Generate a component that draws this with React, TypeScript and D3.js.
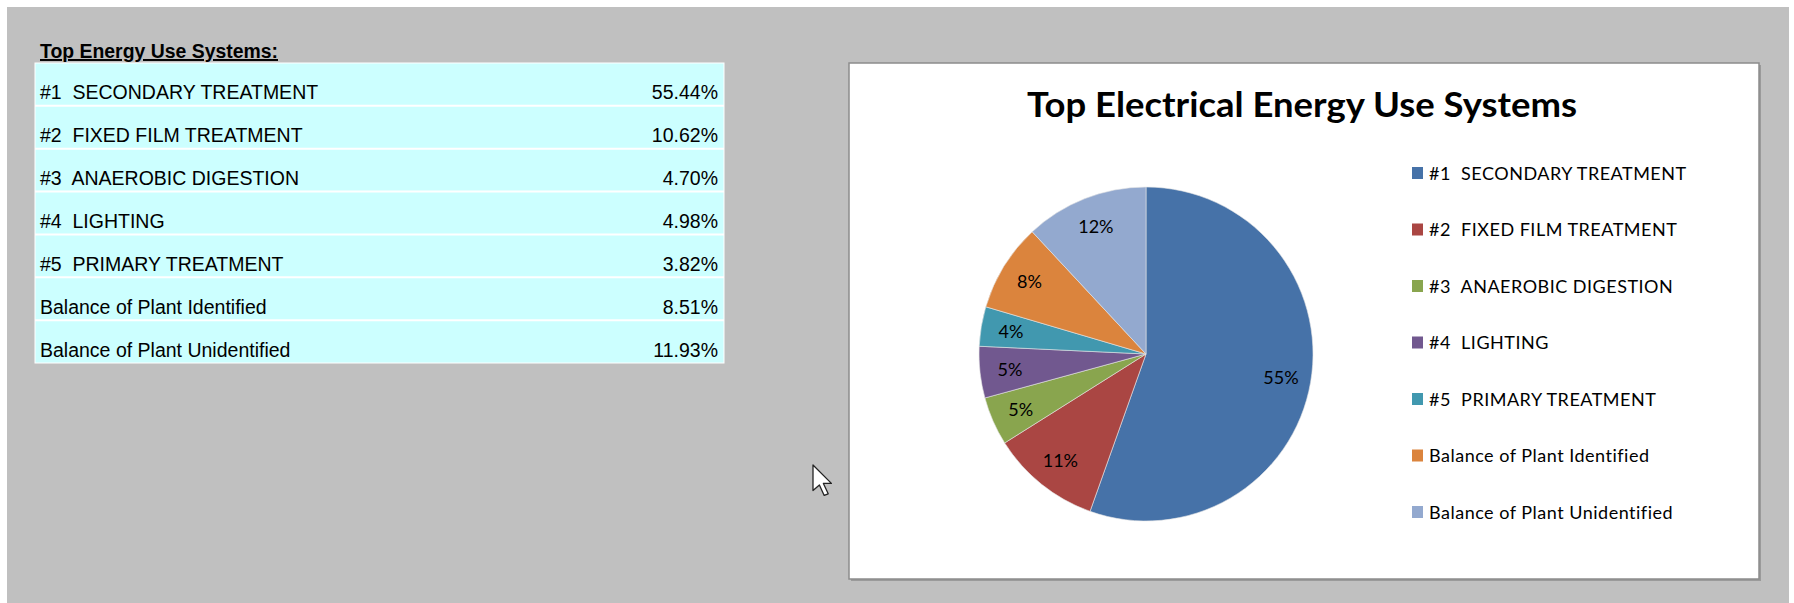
import * as d3 from 'd3';

const systems = [
  '#1  SECONDARY TREATMENT',
  '#2  FIXED FILM TREATMENT',
  '#3  ANAEROBIC DIGESTION',
  '#4  LIGHTING',
  '#5  PRIMARY TREATMENT',
  'Balance of Plant Identified',
  'Balance of Plant Unidentified',
];
const shares = [55.44, 10.62, 4.7, 4.98, 3.82, 8.51, 11.93];
const shareLabels = ['55.44%', '10.62%', '4.70%', '4.98%', '3.82%', '8.51%', '11.93%'];
const pieLabels = ['55%', '11%', '5%', '5%', '4%', '8%', '12%'];
const colors = ['#4672a8', '#aa4643', '#89a54e', '#71588f', '#4198af', '#db843d', '#93a9cf'];

const W = 1794;
const H = 603;

interface Slice {
  name: string;
  value: number;
  label: string;
}

const slices: Slice[] = systems.map((name, i) => ({ name, value: shares[i], label: pieLabels[i] }));

// svg collapses the double space after "#n", keep it with a nbsp
const keepSpaces = (s: string) => s.replace(/  /g, '\u00a0 ');

export default function App() {
  // left table
  const table = { x: 35, y: 63, w: 689, h: 300 };
  const rowScale = d3.scaleBand<number>()
    .domain(d3.range(systems.length))
    .range([table.y, table.y + table.h]);

  // chart box
  const box = { x: 849, y: 63, w: 910, h: 516 };
  const cx = 1146;
  const cy = 354;
  const r = 167;

  const pie = d3.pie<Slice>().value(d => d.value).sort(null);
  const arcs = pie(slices);
  const arc = d3.arc<d3.PieArcDatum<Slice>>().innerRadius(0).outerRadius(r);
  const labelArc = d3.arc<d3.PieArcDatum<Slice>>().innerRadius(r * 0.82).outerRadius(r * 0.82);

  const legendY = d3.scalePoint<string>()
    .domain(systems)
    .range([173, 512]);

  return (
    <div>
      <style>{'body{margin:0}'}</style>
      <svg width={W} height={H} style={{ display: 'block' }}>
        <rect x={0} y={0} width={W} height={H} fill="#ffffff" />
        <rect x={7} y={7} width={1782} height={H - 7} fill="#c0c0c0" />

        {/* table */}
        <text
          x={40}
          y={58}
          fontFamily="'Liberation Sans', Arial, sans-serif"
          fontWeight="bold"
          fontSize={19.5}
          textLength={238}
          lengthAdjust="spacingAndGlyphs"
          textDecoration="underline"
          fill="#000"
        >
          Top Energy Use Systems:
        </text>
        <rect x={table.x} y={table.y} width={table.w} height={table.h} fill="#ccffff" stroke="#ffffff" strokeWidth={1} />
        {systems.map((s, i) => {
          const y0 = rowScale(i) ?? 0;
          const y1 = y0 + rowScale.bandwidth();
          return (
            <g key={s}>
              {i > 0 && (
                <line x1={table.x} x2={table.x + table.w} y1={y0} y2={y0} stroke="#ffffff" strokeWidth={2} />
              )}
              <text
                x={40}
                y={y1 - 6.5}
                fontFamily="'Liberation Sans', Arial, sans-serif"
                fontSize={19.5}
                fill="#000"
              >
                {keepSpaces(s)}
              </text>
              <text
                x={718}
                y={y1 - 6.5}
                textAnchor="end"
                fontFamily="'Liberation Sans', Arial, sans-serif"
                fontSize={19.5}
                fill="#000"
              >
                {shareLabels[i]}
              </text>
            </g>
          );
        })}

        {/* mouse cursor from the screenshot */}
        <path
          transform="translate(813,465) scale(1.6)"
          d="M0,0 L0,16 L4,12.5 L7,19 L9.5,18 L6.5,11.5 L11.5,11.5 Z"
          fill="#ffffff"
          stroke="#222"
          strokeWidth={0.8}
          strokeLinejoin="round"
        />

        {/* chart box */}
        <rect x={box.x + 2} y={box.y + 2} width={box.w} height={box.h} fill="#9a9a9a" />
        <rect x={box.x} y={box.y} width={box.w} height={box.h} fill="#ffffff" stroke="#8c8c8c" strokeWidth={1.5} />

        <text
          x={1302}
          y={117}
          textAnchor="middle"
          fontFamily="Lato, 'Open Sans', sans-serif"
          fontWeight="bold"
          fontSize={34}
          textLength={550}
          lengthAdjust="spacingAndGlyphs"
          fill="#000"
        >
          Top Electrical Energy Use Systems
        </text>

        <g transform={`translate(${cx},${cy})`}>
          {arcs.map((a, i) => (
            <path key={a.data.name} d={arc(a) ?? ''} fill={colors[i]} stroke="#e6e6e6" strokeWidth={0.6} />
          ))}
          {arcs.map(a => {
            const [lx, ly] = labelArc.centroid(a);
            return (
              <text
                key={`l-${a.data.name}`}
                x={lx}
                y={ly}
                dy="0.36em"
                textAnchor="middle"
                fontFamily="Lato, 'Open Sans', sans-serif"
                fontSize={18}
                fill="#000"
              >
                {a.data.label}
              </text>
            );
          })}
        </g>

        {/* legend */}
        {systems.map((s, i) => {
          const y = legendY(s) ?? 0;
          return (
            <g key={`lg-${s}`}>
              <rect x={1412} y={y - 6} width={11} height={12} fill={colors[i]} />
              <text
                x={1429}
                y={y + 6.5}
                fontFamily="Lato, 'Open Sans', sans-serif"
                fontSize={18}
                letterSpacing={0.5}
                fill="#000"
              >
                {keepSpaces(s)}
              </text>
            </g>
          );
        })}
      </svg>
    </div>
  );
}
